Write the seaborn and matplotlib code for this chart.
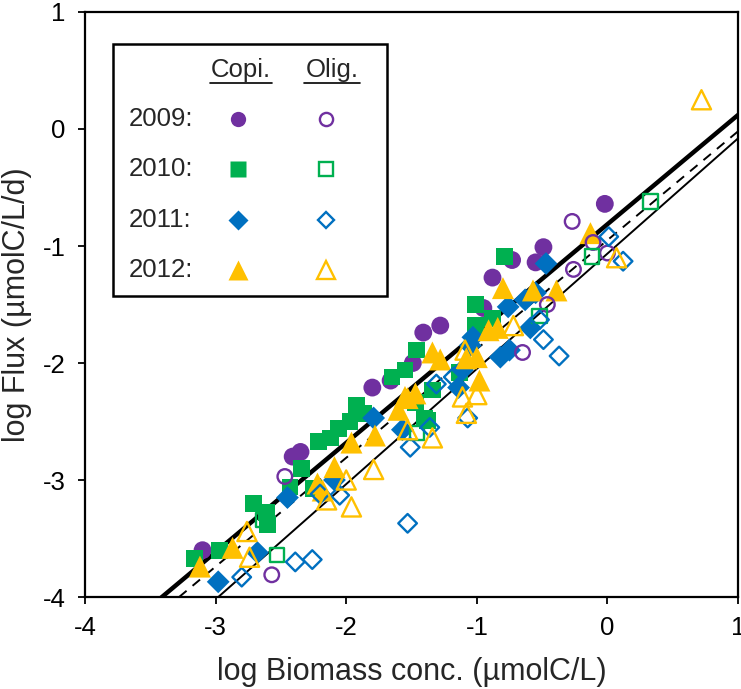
import numpy as np
import pandas as pd
import seaborn as sns
import matplotlib.pyplot as plt
from matplotlib.patches import Rectangle

# values (log biomass, log flux)
copi_2009_x = [-0.02, -0.49, -0.55, -0.73, -0.88, -0.95, -1.41, -1.28, -1.49, -1.80, -1.66, -2.35, -2.41, -3.10]
copi_2009_y = [-0.64, -1.01, -1.14, -1.12, -1.27, -1.53, -1.74, -1.68, -2.00, -2.21, -2.15, -2.76, -2.80, -3.60]
olig_2009_x = [-0.27, 0.00, -0.11, -0.26, -0.46, -0.65, -2.47, -2.57]
olig_2009_y = [-0.79, -1.06, -0.97, -1.20, -1.50, -1.91, -2.97, -3.81]

copi_2010_x = [-0.79, -1.01, -1.01, -0.88, -1.46, -1.55, -1.47, -1.38, -1.13, -1.65, -1.92, -1.87, -1.97,
               -2.06, -2.21, -2.12, -2.34, -1.40, -1.34, -2.71, -2.61, -2.60, -2.43, -2.25, -3.16, -2.97]
copi_2010_y = [-1.09, -1.50, -1.68, -1.62, -1.89, -2.06, -2.34, -2.49, -2.08, -2.12, -2.36, -2.43, -2.50,
               -2.56, -2.67, -2.64, -2.90, -2.47, -2.23, -3.20, -3.28, -3.38, -3.06, -3.07, -3.67, -3.60]
olig_2010_x = [0.33, -0.12, -0.52, -1.46, -2.64, -2.53]
olig_2010_y = [-0.62, -1.09, -1.60, -2.60, -3.34, -3.64]

copi_2011_x = [-0.47, -0.76, -0.63, -0.55, -0.59, -1.03, -0.82, -0.75, -1.14, -1.05, -1.11, -1.79, -1.57,
               -2.45, -2.09, -2.98, -2.68]
copi_2011_y = [-1.15, -1.52, -1.46, -1.40, -1.70, -1.78, -1.95, -1.89, -2.21, -1.85, -2.06, -2.47, -2.57,
               -3.15, -3.00, -3.87, -3.62]
olig_2011_x = [0.01, 0.12, -0.52, -0.49, -0.37, -1.36, -1.51, -1.53, -1.07, -1.31, -1.18, -2.80, -2.39,
               -2.26, -2.20, -2.05]
olig_2011_y = [-0.92, -1.13, -1.63, -1.80, -1.94, -2.55, -2.72, -3.37, -2.47, -2.18, -2.12, -3.83, -3.70,
               -3.68, -3.12, -3.13]

copi_2012_x = [-0.13, -0.80, -0.57, -0.39, -0.91, -0.84, -1.34, -1.28, -1.55, -1.47, -0.98, -1.08, -1.00,
               -1.96, -1.78, -2.09, -1.60, -1.53, -3.12, -2.87, -2.22, -2.18]
copi_2012_y = [-0.89, -1.36, -1.38, -1.38, -1.72, -1.70, -1.91, -1.97, -2.29, -2.26, -2.15, -1.96, -1.95,
               -2.68, -2.62, -2.89, -2.40, -2.30, -3.74, -3.58, -3.03, -3.09]
olig_2012_x = [0.72, 0.07, -0.72, -1.53, -1.34, -1.11, -1.00, -1.08, -1.09, -1.79, -2.74, -2.76, -2.15,
               -1.96, -2.00]
olig_2012_y = [0.25, -1.10, -1.68, -2.57, -2.64, -2.29, -2.27, -2.43, -1.89, -2.91, -3.66, -3.44, -3.17,
               -3.23, -3.00]

# regression lines: copiotroph (thick), all (dashed), oligotroph (thin)
fit_slopes = [0.934, 0.93, 0.985]
fit_intercepts = [-0.814, -0.95, -1.065]

years = ['2009', '2010', '2011', '2012']
colors = {'2009': '#7030A0', '2010': '#00B050', '2011': '#0070C0', '2012': '#FFC000'}
markers = {'2009': 'o', '2010': 's', '2011': 'D', '2012': '^'}
filled_size = {'2009': 165, '2010': 145, '2011': 135, '2012': 250}
open_size = {'2009': 110, '2010': 105, '2011': 90, '2012': 190}

copi = {'2009': (copi_2009_x, copi_2009_y), '2010': (copi_2010_x, copi_2010_y),
        '2011': (copi_2011_x, copi_2011_y), '2012': (copi_2012_x, copi_2012_y)}
olig = {'2009': (olig_2009_x, olig_2009_y), '2010': (olig_2010_x, olig_2010_y),
        '2011': (olig_2011_x, olig_2011_y), '2012': (olig_2012_x, olig_2012_y)}

sns.set_style('ticks')
plt.rcParams['font.family'] = ['Liberation Sans', 'DejaVu Sans']
plt.rcParams['axes.unicode_minus'] = False

fig = plt.figure(figsize=(7.41, 6.89), dpi=100)
ax = fig.add_axes([0.1147, 0.1335, 0.8813, 0.8491])

# fit lines
x_fit = np.linspace(-4, 1, 50)
line_styles = [('-', 3.2), ('--', 1.4), ('-', 1.4)]
for slope, icpt, (ls, lw) in zip(fit_slopes, fit_intercepts, line_styles):
    fit_df = pd.DataFrame({'x': x_fit, 'y': icpt + slope * x_fit})
    sns.lineplot(data=fit_df, x='x', y='y', color='black', linestyle=ls, linewidth=lw, ax=ax, zorder=1)
ax.lines[1].set_dashes((5, 4))

# scatter points
for yr in years:
    df = pd.DataFrame({'x': copi[yr][0], 'y': copi[yr][1]})
    sns.scatterplot(data=df, x='x', y='y', marker=markers[yr], s=filled_size[yr], color=colors[yr],
                    edgecolor='none', linewidth=0, ax=ax, zorder=3)
for yr in years:
    df = pd.DataFrame({'x': olig[yr][0], 'y': olig[yr][1]})
    ax.scatter(df['x'], df['y'], marker=markers[yr], s=open_size[yr], facecolors='none',
               edgecolors=colors[yr], linewidths=1.7, zorder=4)

ax.set_xlim(-4, 1)
ax.set_ylim(-4, 1)
ax.set_xticks([-4, -3, -2, -1, 0, 1])
ax.set_yticks([-4, -3, -2, -1, 0, 1])
ax.tick_params(direction='out', length=5, width=1.3, labelsize=18.5, pad=9, colors='black')
for sp in ax.spines.values():
    sp.set_linewidth(1.6)
    sp.set_color('black')
ax.set_xlabel('log Biomass conc. (µmolC/L)', fontsize=22, labelpad=12)
ax.set_ylabel('log Flux (µmolC/L/d)', fontsize=22, labelpad=8)

# hand-made legend box
ax.add_patch(Rectangle((0.043, 0.515), 0.419, 0.43, transform=ax.transAxes, facecolor='white',
                       edgecolor='black', linewidth=1.8, zorder=5))
ax.text(0.238, 0.889, 'Copi.', transform=ax.transAxes, ha='center', va='baseline', fontsize=18.5, zorder=6)
ax.text(0.378, 0.889, 'Olig.', transform=ax.transAxes, ha='center', va='baseline', fontsize=18.5, zorder=6)
ax.plot([0.191, 0.286], [0.879, 0.879], transform=ax.transAxes, color='black', lw=1.2, zorder=6)
ax.plot([0.335, 0.421], [0.879, 0.879], transform=ax.transAxes, color='black', lw=1.2, zorder=6)

row_y = [0.817, 0.7316, 0.6444, 0.559]
leg_ms = {'2009': 11, '2010': 11, '2011': 10, '2012': 14}
for yr, ry in zip(years, row_y):
    ax.text(0.0674, ry - 0.012, yr + ':', transform=ax.transAxes, ha='left', va='baseline',
            fontsize=18.5, zorder=6)
    ax.plot([0.2343], [ry], marker=markers[yr], ms=leg_ms[yr], color=colors[yr], mec='none',
            transform=ax.transAxes, zorder=6, clip_on=False)
    ax.plot([0.369], [ry], marker=markers[yr], ms=leg_ms[yr] - 1.5, mfc='none', mec=colors[yr], mew=1.7,
            transform=ax.transAxes, zorder=6, clip_on=False)

fig.savefig('out.png', dpi=100)
